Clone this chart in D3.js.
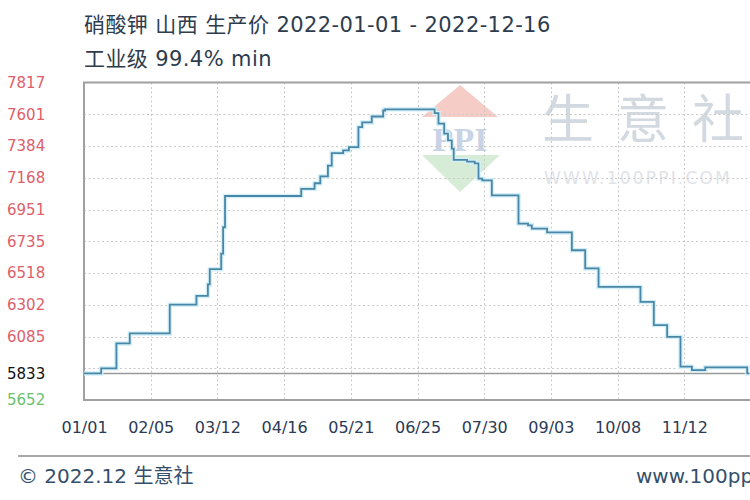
<!DOCTYPE html>
<html><head><meta charset="utf-8">
<script src="https://cdn.jsdelivr.net/npm/d3@7"></script>
<style>body{margin:0;background:#fff}svg{display:block}</style>
</head><body>
<svg id="c" width="750" height="500"></svg>
<script>
// ---- data ----
const changeDates = ["2022-01-01","2022-01-10","2022-01-18","2022-01-25","2022-02-15","2022-03-01","2022-03-07","2022-03-08","2022-03-14","2022-03-15","2022-03-16","2022-04-25","2022-05-02","2022-05-05","2022-05-09","2022-05-11","2022-05-17","2022-05-20","2022-05-25","2022-05-27","2022-06-01","2022-06-07","2022-06-08","2022-07-04","2022-07-06","2022-07-09","2022-07-11","2022-07-13","2022-07-14","2022-07-21","2022-07-25","2022-07-27","2022-07-29","2022-08-03","2022-08-17","2022-08-22","2022-08-24","2022-09-01","2022-09-14","2022-09-21","2022-09-28","2022-10-20","2022-10-27","2022-11-03","2022-11-10","2022-11-16","2022-11-23","2022-12-15","2022-12-16"];
const prices = [5833,5868,6038,6106,6302,6362,6440,6544,6650,6830,7043,7092,7130,7177,7250,7336,7354,7376,7513,7545,7585,7626,7634,7608,7536,7468,7423,7366,7290,7277,7266,7161,7150,7048,6855,6843,6821,6795,6673,6549,6423,6321,6163,6083,5879,5856,5875,5833,5833];
const xTickDates = ["2022-01-01","2022-02-05","2022-03-12","2022-04-16","2022-05-21","2022-06-25","2022-07-30","2022-09-03","2022-10-08","2022-11-12","2022-12-17"];
const xTickLabels = ["01/01","02/05","03/12","04/16","05/21","06/25","07/30","09/03","10/08","11/12",""];
const yTickValues = [7817,7601,7384,7168,6951,6735,6518,6302,6085,5868,5652];
const yTickLabels = ["7817","7601","7384","7168","6951","6735","6518","6302","6085","","5652"];
const lastPrice = 5833;
const titleLine1 = "硝酸钾 山西 生产价 2022-01-01 - 2022-12-16";
const titleLine2 = "工业级 99.4% min";
const footerLeft = "© 2022.12 生意社";
const footerRight = "www.100ppi.com";
const watermarkChars = ["生","意","社"];
const watermarkUrl = "WWW.100PPI.COM";

// ---- layout ----
const L = 84, R = 751, T = 82.5, B = 400;
const parse = d3.utcParse("%Y-%m-%d");
const svg = d3.select("#c");
svg.append("rect").attr("width",750).attr("height",500).attr("fill","#fff");

const x = d3.scaleUtc().domain([parse("2022-01-01"), parse("2022-12-17")]).range([L, R]);
const y = d3.scaleLinear().domain([5652, 7817]).range([B, T]);

// ---- watermark ----
const wm = svg.append("g");
wm.append("polygon").attr("points","422,117 460,85 498,117").attr("fill","#f5cdc6");
wm.append("polygon").attr("points","422,155 500,155 460,192").attr("fill","#d6ecd6");
wm.append("text").attr("x",460).attr("y",151).attr("text-anchor","middle")
  .attr("font-family","Liberation Serif").attr("font-weight","bold").attr("font-size",34)
  .attr("fill","#c9d3e6").text("PPI");
wm.selectAll("text.wc").data(watermarkChars).join("text").attr("class","wc")
  .attr("x",(d,i)=>568+i*75).attr("y",138).attr("text-anchor","middle")
  .attr("font-family","Noto Sans CJK SC").attr("font-size",52).attr("fill","#d3d9e0").text(d=>d);
wm.append("text").attr("x",544).attr("y",184).attr("font-family","DejaVu Sans")
  .attr("font-size",17).attr("letter-spacing",2.2).attr("fill","#dfe3e8").text(watermarkUrl);

// ---- grid ----
const grid = svg.append("g").attr("stroke","#c9c9c9").attr("stroke-width",1).attr("stroke-dasharray","2,2.5");
grid.selectAll("line.h").data(yTickValues.slice(1,-1)).join("line")
  .attr("x1",L).attr("x2",R).attr("y1",d=>Math.round(y(d))+0.5).attr("y2",d=>Math.round(y(d))+0.5);
grid.selectAll("line.v").data(xTickDates.slice(1,-1)).join("line")
  .attr("y1",T).attr("y2",B).attr("x1",d=>Math.round(x(parse(d)))+0.5).attr("x2",d=>Math.round(x(parse(d)))+0.5);

// last-price reference line
svg.append("line").attr("x1",L).attr("x2",R).attr("y1",y(lastPrice)).attr("y2",y(lastPrice))
  .attr("stroke","#9a9a9a").attr("stroke-width",1.5);

// border
svg.append("path").attr("d",`M${R},${T}H${L}V${B}H${R}`).attr("fill","none")
  .attr("stroke","#a0a0a0").attr("stroke-width",2);

// ---- line ----
const pts = changeDates.map((d,i)=>({d:parse(d), v:prices[i]}));
const line = d3.line().x(p=>x(p.d)).y(p=>y(p.v)).curve(d3.curveStepAfter);
svg.append("path").datum(pts).attr("d",line).attr("fill","none")
  .attr("stroke","#d3f0f8").attr("stroke-width",4.5);
svg.append("path").datum(pts).attr("d",line).attr("fill","none")
  .attr("stroke","#4a86a6").attr("stroke-width",1.8);

// ---- y labels ----
const yl = svg.append("g").attr("font-family","DejaVu Sans").attr("font-size",15);
yl.selectAll("text").data(yTickValues.map((v,i)=>({v,t:yTickLabels[i]})).filter(d=>d.t)).join("text")
  .attr("x",7).attr("y",d=>y(d.v)).attr("dy","0.36em")
  .attr("fill",d=>d.v===5652?"#6cc06c":"#e0606a").text(d=>d.t);
yl.append("text").attr("x",7).attr("y",y(lastPrice)).attr("dy","0.36em").attr("fill","#111").text(String(lastPrice));

// ---- x axis labels ----
const xa = d3.axisBottom(x).tickValues(xTickDates.map(parse)).tickSize(0)
  .tickFormat((d,i)=>xTickLabels[i]);
const xg = svg.append("g").attr("transform",`translate(0,${B+19})`).call(xa);
xg.select(".domain").remove();
xg.selectAll("text").attr("font-family","DejaVu Sans").attr("font-size",16).attr("fill","#2c3a56");

// ---- titles ----
svg.append("text").attr("x",84).attr("y",32).attr("font-family","DejaVu Sans, Noto Sans CJK SC")
  .attr("font-size",21).attr("letter-spacing",0.4).attr("fill","#2e3c4e").text(titleLine1);
svg.append("text").attr("x",84).attr("y",66).attr("font-family","DejaVu Sans, Noto Sans CJK SC")
  .attr("font-size",21).attr("letter-spacing",0.4).attr("fill","#2e3c4e").text(titleLine2);

// ---- footer ----
svg.append("line").attr("x1",18).attr("x2",750).attr("y1",456).attr("y2",456)
  .attr("stroke","#a8a8a8").attr("stroke-width",2);
svg.append("text").attr("x",18).attr("y",483).attr("font-family","DejaVu Sans, Noto Sans CJK SC")
  .attr("font-size",20).attr("fill","#34506c").text(footerLeft);
svg.append("text").attr("x",636).attr("y",483).attr("font-family","DejaVu Sans")
  .attr("font-size",20).attr("fill","#34506c").text(footerRight);
</script>
</body></html>
